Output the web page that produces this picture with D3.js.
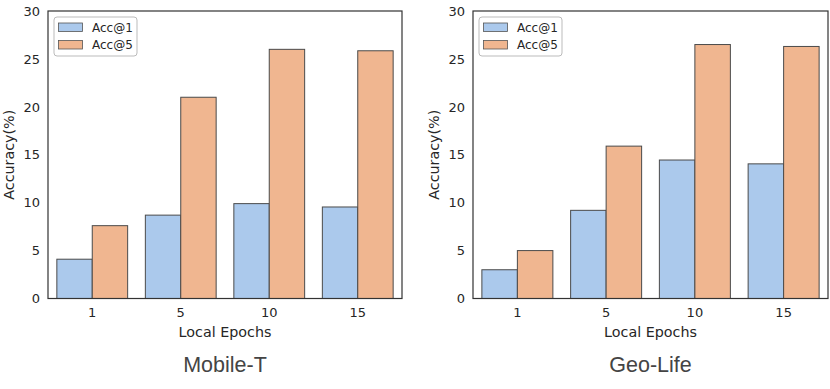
<!DOCTYPE html>
<meta charset="utf-8">
<script src="https://d3js.org/d3.v7.min.js"></script>
<style>
  body { margin: 0; background: #fff; }
  text { font-family: "DejaVu Sans", sans-serif; fill: #262626; }
</style>
<body>
  <svg id="svg"></svg>
</body>
<script>
  // data
  let epochs = ['1', '5', '10', '15'];
  let seriesNames = ['Acc@1', 'Acc@5'];
  let mobileAcc1 = [4.1, 8.7, 9.9, 9.55];
  let mobileAcc5 = [7.6, 21.0, 26.0, 25.85];
  let geoAcc1 = [3.0, 9.2, 14.45, 14.05];
  let geoAcc5 = [5.0, 15.9, 26.5, 26.3];
  let yTicks = [0, 5, 10, 15, 20, 25, 30];

  let width = 830;
  let height = 389;
  let colors = ['#abc9ec', '#f0b690'];

  let svg = d3.select('#svg')
    .attr('width', width)
    .attr('height', height);

  function drawPanel(left, right, title, acc1, acc5) {
    let top = 11, bottom = 298.5;
    let g = svg.append('g');

    let x = d3.scaleBand()
      .domain(epochs)
      .range([left, right])
      .paddingInner(0.2)
      .paddingOuter(0.1);

    let sub = d3.scaleBand()
      .domain(seriesNames)
      .range([0, x.bandwidth()]);

    let y = d3.scaleLinear()
      .domain([0, 30])
      .range([bottom, top]);

    let series = [acc1, acc5];

    series.forEach(function (vals, si) {
      g.selectAll('.bar' + si)
        .data(vals)
        .enter()
        .append('rect')
        .attr('x', (d, i) => x(epochs[i]) + sub(seriesNames[si]))
        .attr('y', d => y(d))
        .attr('width', sub.bandwidth())
        .attr('height', d => y(0) - y(d))
        .attr('fill', colors[si])
        .attr('stroke', '#4a4a4a')
        .attr('stroke-width', 1);
    });

    // frame
    g.append('rect')
      .attr('x', left).attr('y', top)
      .attr('width', right - left).attr('height', bottom - top)
      .attr('fill', 'none')
      .attr('stroke', '#333')
      .attr('stroke-width', 1.2);

    let yAxis = d3.axisLeft(y).tickValues(yTicks).tickSize(0).tickPadding(8);
    g.append('g')
      .attr('transform', `translate(${left},0)`)
      .call(yAxis)
      .call(a => a.select('.domain').remove())
      .selectAll('text')
      .style('font-size', '13px')
      .style('font-family', '"DejaVu Sans", sans-serif')
      .attr('fill', '#262626');

    let xAxis = d3.axisBottom(x).tickSize(0).tickPadding(9);
    g.append('g')
      .attr('transform', `translate(0,${bottom})`)
      .call(xAxis)
      .call(a => a.select('.domain').remove())
      .selectAll('text')
      .style('font-size', '13px')
      .style('font-family', '"DejaVu Sans", sans-serif')
      .attr('fill', '#262626');

    g.append('text')
      .attr('x', (left + right) / 2)
      .attr('y', 337)
      .attr('text-anchor', 'middle')
      .style('font-size', '14.3px')
      .text('Local Epochs');

    g.append('text')
      .attr('transform', `translate(${left - 34.5},${(top + bottom) / 2}) rotate(-90)`)
      .attr('text-anchor', 'middle')
      .style('font-size', '14.3px')
      .text('Accuracy(%)');

    g.append('text')
      .attr('x', (left + right) / 2)
      .attr('y', 372)
      .attr('text-anchor', 'middle')
      .style('font-family', '"Liberation Sans", Arial, sans-serif')
      .style('font-size', '21.5px')
      .style('fill', '#444')
      .text(title);

    // legend
    let lg = g.append('g').attr('transform', `translate(${left + 6},17)`);
    lg.append('rect')
      .attr('width', 83).attr('height', 39)
      .attr('rx', 3)
      .attr('fill', '#fff')
      .attr('stroke', '#bbb')
      .attr('stroke-width', 1);
    seriesNames.forEach(function (name, i) {
      lg.append('rect')
        .attr('x', 4.5).attr('y', 6 + i * 17.5)
        .attr('width', 24).attr('height', 8.5)
        .attr('fill', colors[i])
        .attr('stroke', '#555')
        .attr('stroke-width', 0.8);
      lg.append('text')
        .attr('x', 38).attr('y', 14.8 + i * 17.5)
        .style('font-size', '12px')
        .text(name);
    });
  }

  drawPanel(48, 402, 'Mobile-T', mobileAcc1, mobileAcc5);
  drawPanel(473, 828, 'Geo-Life', geoAcc1, geoAcc5);
</script>
